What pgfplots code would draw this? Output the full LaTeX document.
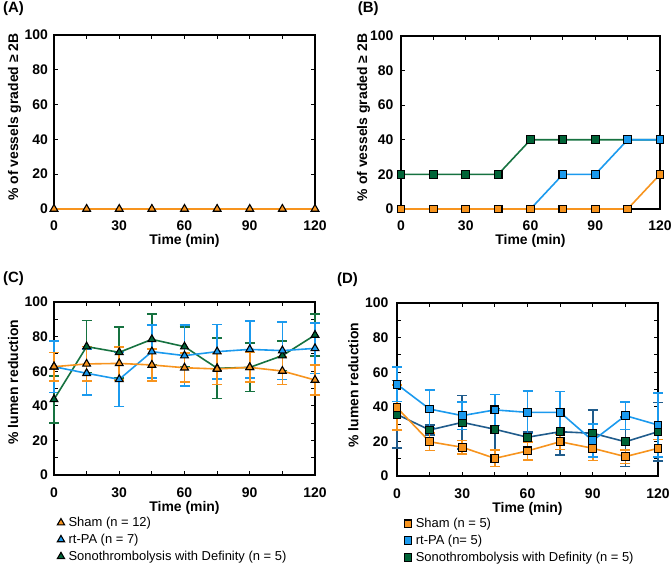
\documentclass[border=0pt]{standalone}
\usepackage{pgfplots}
\pgfplotsset{compat=1.18}
\usepackage{fontspec}
\setmainfont{Liberation Sans}
\definecolor{cOr}{RGB}{247,148,30}
\definecolor{cBl}{RGB}{27,154,238}
\definecolor{cGr}{RGB}{0,100,55}
\definecolor{cGl}{RGB}{22,114,64}
\definecolor{cDb}{RGB}{32,92,140}
\pgfplotsset{
  panel/.style={
    scale only axis, clip=false,
    xmin=0, xmax=120, ymin=0, ymax=100,
    xtick={0,30,60,90,120}, minor xtick={15,45,75,105},
    ytick={0,20,40,60,80,100},
    tick align=inside,
    major tick length=4bp, minor tick length=4bp,
    every tick/.style={black, line width=1bp},
    every minor tick/.style={black, line width=1bp},
    axis line style={black, line width=1.2bp},
    /pgf/number format/assume math mode=true,
    ticklabel style={font=\bfseries\fontsize{14}{16}\selectfont},
    xticklabel style={anchor=base, inner sep=0pt, yshift=-22bp},
    xlabel={Time (min)},
    label style={font=\bfseries\fontsize{14}{16}\selectfont},
    xlabel style={at={(axis description cs:0.5,0)}, anchor=base, inner sep=0pt, yshift=-36bp},
    ylabel style={anchor=base, inner sep=0pt},
    legend cell align=left,
    legend image code/.code={\draw[##1] plot coordinates {(0bp,0bp)};},
  },
  tri/.style={mark=triangle*, mark size=4.5bp, mark options={fill=#1, draw=black, line width=1.1bp, solid}},
  sq/.style={mark=square*, mark size=3.9bp, mark options={fill=#1, draw=black, line width=1.1bp, solid}},
  ln/.style={color=#1, line width=1.6bp},
  eb/.style={forget plot, draw=none, mark=none, color=#1,
    error bars/.cd, y dir=both, y explicit,
    error bar style={draw=#1, color=#1, line width=1.6bp, solid},
    error mark options={draw=#1, color=#1, fill=#1, rotate=90, mark size=5bp, line width=1.6bp}, /pgfplots/.cd},
  leg/.style={legend style={at={(axis description cs:#1,-0.235)}, anchor=north west, draw=none, fill=none,
    font=\fontsize{13}{15}\selectfont, inner sep=0pt, row sep=3bp, nodes={inner sep=1.5bp},
    /tikz/every odd column/.style={column sep=2.5bp}}},
}
\pgfplotstableread{
t   v     ep    em
0   43.7  13.5  13.5
15  74.2  15    15
30  70.9  14.8  14.8
45  78.4  14.6  14.6
60  74.2  11.5  11.5
75  61.7  17.5  17.5
90  62.2  14    14
105 69    8.6   8.6
120 80.9  12    12
}\Cgr
\pgfplotstableread{
t   v     ep    em
0   62.6  15    15
15  58.8  14    12.6
30  55.3  15.8  15.8
45  71.3  15.4  15.4
60  69    17.6  17.6
75  71.3  15.8  15.8
90  72.6  16.4  16.4
105 71.9  16.6  16.6
120 73.2  14.5  14.5
}\Cbl
\pgfplotstableread{
t   v     ep    em
0   62.6  8.1   8.3
15  64.2  10    10
30  64.5  9.5   9.5
45  63.6  9.3   9.3
60  62    8.4   8.4
75  61.3  9     9
90  62.2  8.6   8.6
105 60.1  8.5   7.7
120 54.9  8.6   8.6
}\Cor
\pgfplotstableread{
t   v     ep    em
0   35.6  19.5  19.5
15  26.6  3     3
30  31    15.5  15.5
45  27    12    12
60  22.4  3     3
75  25.6  13.5  13.5
90  24.7  13.5  13.5
105 19.8  14.4  14.4
120 25.6  17    17
}\Dgr
\pgfplotstableread{
t   v     ep    em
0   39.5  13    13
15  19.8  5     5
30  16.6  4     4
45  10.2  4.8   4.8
60  14.5  5.3   5.3
75  19.8  4.5   4.5
90  16    7     7
105 11.2  4     4
120 16    5     5
}\Dor
\pgfplotstableread{
t   v     ep    em
0   53    10    10
15  38.7  11    11
30  34.9  8     8
45  38.2  9     9
60  36.8  12.3  12.3
75  36.8  12    12
90  20.4  9.5   9.5
105 34.9  8     8
120 29.5  18.5  18.5
}\Dbl
\begin{document}
\begin{tikzpicture}
\path[use as bounding box] (0,0) rectangle (671bp,565bp);
\node[anchor=base west, inner sep=0pt, font=\bfseries\fontsize{15}{17}\selectfont] at (3bp,552.7bp) {(A)};
\node[anchor=base west, inner sep=0pt, font=\bfseries\fontsize{15}{17}\selectfont] at (357.7bp,552.7bp) {(B)};
\node[anchor=base west, inner sep=0pt, font=\bfseries\fontsize{15}{17}\selectfont] at (3bp,282bp) {(C)};
\node[anchor=base west, inner sep=0pt, font=\bfseries\fontsize{15}{17}\selectfont] at (337bp,281bp) {(D)};

% Panel A
\begin{axis}[panel, at={(54bp,356bp)}, anchor=south west, width=261bp, height=174bp,
  yticklabel style={anchor=east, inner sep=0pt, xshift=-6bp},
  ylabel={\% of vessels graded ≥ 2B},
  ylabel style={at={(axis description cs:-0.137,0.529)}}]
\addplot[ln=cOr, tri=cOr] coordinates {(0,0) (15,0) (30,0) (45,0) (60,0) (75,0) (90,0) (105,0) (120,0)};
\end{axis}

% Panel B
\begin{axis}[panel, at={(401bp,356bp)}, anchor=south west, width=259bp, height=173bp,
  yticklabel style={anchor=east, inner sep=0pt, xshift=-7.5bp},
  ylabel={\% of vessels graded ≥ 2B},
  ylabel style={at={(axis description cs:-0.131,0.529)}}]
\addplot[ln=cGl, sq=cGr] coordinates {(0,20) (15,20) (30,20) (45,20) (60,40) (75,40) (90,40) (105,40) (120,40)};
\addplot[ln=cBl, sq=cBl] coordinates {(0,0) (15,0) (30,0) (45,0) (60,0) (75,20) (90,20) (105,40) (120,40)};
\addplot[ln=cOr, sq=cOr] coordinates {(0,0) (15,0) (30,0) (45,0) (60,0) (75,0) (90,0) (105,0) (120,20)};
\end{axis}

% Panel C
\begin{axis}[panel, at={(54bp,90bp)}, anchor=south west, width=261bp, height=173bp,
  minor ytick={10,30,50,70,90},
  yticklabel style={anchor=east, inner sep=0pt, xshift=-6bp},
  ylabel={\% lumen reduction},
  ylabel style={at={(axis description cs:-0.137,0.538)}},
  leg=0.012]
\addplot[eb=cGl] table[x=t, y=v, y error plus=ep, y error minus=em] {\Cgr};
\addplot[eb=cBl] table[x=t, y=v, y error plus=ep, y error minus=em] {\Cbl};
\addplot[eb=cOr] table[x=t, y=v, y error plus=ep, y error minus=em] {\Cor};
\addplot[forget plot, ln=cGl, tri=cGr] table[x=t, y=v] {\Cgr};
\addplot[forget plot, ln=cBl, tri=cBl] table[x=t, y=v] {\Cbl};
\addplot[forget plot, ln=cOr, tri=cOr] table[x=t, y=v] {\Cor};
\addlegendimage{only marks, tri=cOr, mark size=4.2bp}
\addlegendentry{Sham (n = 12)}
\addlegendimage{only marks, tri=cBl, mark size=4.2bp}
\addlegendentry{rt-PA (n = 7)}
\addlegendimage{only marks, tri=cGr, mark size=4.2bp}
\addlegendentry{Sonothrombolysis with Definity (n = 5)}
\end{axis}

% Panel D
\begin{axis}[panel, at={(397bp,89bp)}, anchor=south west, width=261bp, height=173bp,
  minor ytick={10,30,50,70,90},
  yticklabel style={anchor=east, inner sep=0pt, xshift=-8.5bp},
  ylabel={\% lumen reduction},
  ylabel style={at={(axis description cs:-0.148,0.526)}},
  leg=0.027]
\addplot[eb=cDb] table[x=t, y=v, y error plus=ep, y error minus=em] {\Dgr};
\addplot[eb=cOr] table[x=t, y=v, y error plus=ep, y error minus=em] {\Dor};
\addplot[eb=cBl] table[x=t, y=v, y error plus=ep, y error minus=em] {\Dbl};
\addplot[forget plot, ln=cDb, sq=cGr] table[x=t, y=v] {\Dgr};
\addplot[forget plot, ln=cOr, sq=cOr] table[x=t, y=v] {\Dor};
\addplot[forget plot, ln=cBl, sq=cBl] table[x=t, y=v] {\Dbl};
\addlegendimage{only marks, sq=cOr, mark size=3.8bp}
\addlegendentry{Sham (n = 5)}
\addlegendimage{only marks, sq=cBl, mark size=3.8bp}
\addlegendentry{rt-PA (n= 5)}
\addlegendimage{only marks, sq=cGr, mark size=3.8bp}
\addlegendentry{Sonothrombolysis with Definity (n = 5)}
\end{axis}
\end{tikzpicture}
\end{document}
